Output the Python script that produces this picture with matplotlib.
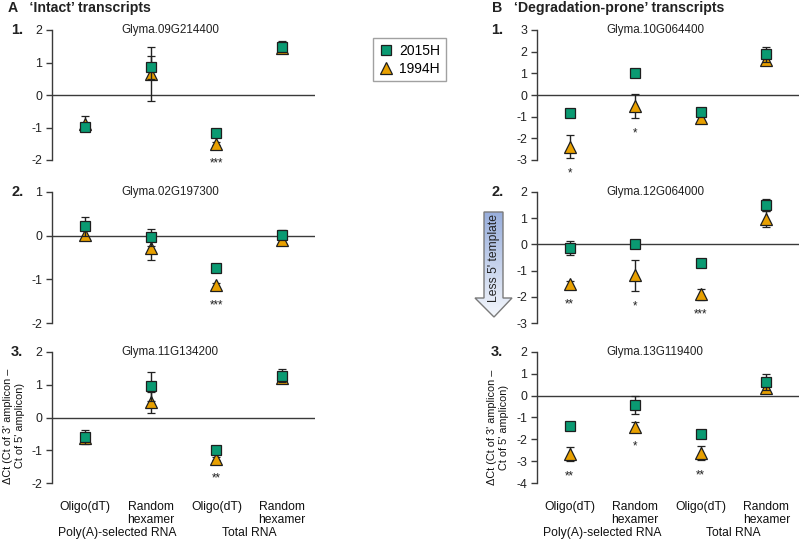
import numpy as np
import matplotlib
matplotlib.use("Agg")
import matplotlib.pyplot as plt
from matplotlib.lines import Line2D
from matplotlib.patches import Polygon
from matplotlib.colors import LinearSegmentedColormap
from matplotlib import transforms

plt.rcParams['font.family'] = ['Liberation Sans', 'DejaVu Sans']
plt.rcParams['axes.unicode_minus'] = False

# ---------------- data ----------------
categories = ["Oligo(dT)", "Random\nhexamer", "Oligo(dT)", "Random\nhexamer"]
groups = ["Poly(A)-selected RNA", "Total RNA"]
series_names = ["2015H", "1994H"]

genes_A = ["Glyma.09G214400", "Glyma.02G197300", "Glyma.11G134200"]
genes_B = ["Glyma.10G064400", "Glyma.12G064000", "Glyma.13G119400"]

ylims_A = [(-2, 2), (-2, 1), (-2, 2)]
ylims_B = [(-3, 3), (-3, 2), (-4, 2)]

# 2015H (squares)
sq_A1 = [-0.97, 0.85, -1.18, 1.49]; sq_err_A1 = [0.08, 0.35, 0.06, 0.17]
sq_A2 = [0.21, -0.04, -0.73, 0.02]; sq_err_A2 = [0.21, 0.19, 0.05, 0.10]
sq_A3 = [-0.60, 0.95, -0.98, 1.28]; sq_err_A3 = [0.22, 0.45, 0.08, 0.20]
sq_B1 = [-0.85, 1.00, -0.77, 1.88]; sq_err_B1 = [0.10, 0.10, 0.15, 0.35]
sq_B2 = [-0.14, 0.02, -0.70, 1.49]; sq_err_B2 = [0.27, 0.12, 0.05, 0.23]
sq_B3 = [-1.40, -0.43, -1.76, 0.64]; sq_err_B3 = [0.08, 0.40, 0.08, 0.37]

# 1994H (triangles)
tri_A1 = [-0.88, 0.65, -1.50, 1.45]; tri_err_A1 = [0.24, 0.82, 0.05, 0.10]
tri_A2 = [0.02, -0.28, -1.13, -0.10]; tri_err_A2 = [0.12, 0.27, 0.05, 0.08]
tri_A3 = [-0.62, 0.47, -1.26, 1.22]; tri_err_A3 = [0.15, 0.32, 0.05, 0.10]
tri_B1 = [-2.38, -0.50, -1.05, 1.60]; tri_err_B1 = [0.53, 0.56, 0.10, 0.15]
tri_B2 = [-1.53, -1.18, -1.91, 0.98]; tri_err_B2 = [0.12, 0.60, 0.20, 0.30]
tri_B3 = [-2.67, -1.42, -2.63, 0.34]; tri_err_B3 = [0.33, 0.22, 0.32, 0.10]

sig_A1 = ["", "", "***", ""]
sig_A2 = ["", "", "***", ""]
sig_A3 = ["", "", "**", ""]
sig_B1 = ["*", "*", "", ""]
sig_B2 = ["**", "*", "***", ""]
sig_B3 = ["**", "*", "**", ""]

# ---------------- style ----------------
GREEN = "#0A9A72"
ORANGE = "#E8A000"
EDGE = "#1e1e1e"
AXC = "#3a3a3a"
FS = 8.4

W, H = 800, 541
fig = plt.figure(figsize=(W / 100, H / 100), dpi=100)

col_left = [52, 537]
col_width = [263, 262]
row_top = [30, 192, 352]
row_h = [130, 131, 131]

panels = [
    (0, 0, genes_A[0], ylims_A[0], sq_A1, sq_err_A1, tri_A1, tri_err_A1, sig_A1),
    (0, 1, genes_A[1], ylims_A[1], sq_A2, sq_err_A2, tri_A2, tri_err_A2, sig_A2),
    (0, 2, genes_A[2], ylims_A[2], sq_A3, sq_err_A3, tri_A3, tri_err_A3, sig_A3),
    (1, 0, genes_B[0], ylims_B[0], sq_B1, sq_err_B1, tri_B1, tri_err_B1, sig_B1),
    (1, 1, genes_B[1], ylims_B[1], sq_B2, sq_err_B2, tri_B2, tri_err_B2, sig_B2),
    (1, 2, genes_B[2], ylims_B[2], sq_B3, sq_err_B3, tri_B3, tri_err_B3, sig_B3),
]

x = np.arange(1, len(categories) + 1)

for col, row, gene, ylim, sq, sqe, tri, trie, sig in panels:
    l = col_left[col] / W
    w = col_width[col] / W
    b = 1 - (row_top[row] + row_h[row]) / H
    h = row_h[row] / H
    ax = fig.add_axes([l, b, w, h])
    ax.set_xlim(0.5, 4.5)
    ax.set_ylim(*ylim)
    ax.set_yticks(np.arange(ylim[0], ylim[1] + 1, 1))
    for s in ["top", "right", "bottom"]:
        ax.spines[s].set_visible(False)
    ax.spines["left"].set_color(AXC)
    ax.spines["left"].set_linewidth(1.0)
    ax.tick_params(axis="y", direction="out", length=4, width=1.0, color=AXC,
                   labelsize=FS + 0.5, pad=3, labelcolor="#222222")
    ax.axhline(0, color=AXC, lw=1.0, zorder=1)
    ax.patch.set_alpha(0)

    ax.errorbar(x, tri, yerr=trie, fmt="^", ms=8.2, mfc=ORANGE, mec=EDGE, mew=0.9,
                ecolor="#222222", elinewidth=1.0, capsize=3, capthick=1.0, zorder=3)
    ax.errorbar(x, sq, yerr=sqe, fmt="s", ms=7.8, mfc=GREEN, mec=EDGE, mew=0.9,
                ecolor="#222222", elinewidth=1.0, capsize=3, capthick=1.0, zorder=4)

    ax.text(0.45, 1.0, gene, transform=ax.transAxes, ha="center", va="center",
            fontsize=FS, color="#222222")

    ppu = h * H / (ylim[1] - ylim[0])
    for xi, t, te, s in zip(x, tri, trie, sig):
        if s:
            off = max(te * ppu, 5) + 9
            ax.annotate(s, xy=(xi, t), xytext=(0, -off), textcoords="offset pixels",
                        ha="center", va="top", fontsize=FS, color="#222222",
                        annotation_clip=False)

    if row == 2:
        ax.set_xticks(x)
        ax.set_xticklabels(categories, fontsize=FS + 0.3, linespacing=1.15)
        ax.tick_params(axis="x", length=0, pad=13, labelcolor="#111111")
        trans = transforms.blended_transform_factory(ax.transData, ax.transAxes)
        for gi, g in enumerate(groups):
            ax.text(1.5 + 2 * gi, -0.385, g, transform=trans, ha="center", va="center",
                    fontsize=FS + 0.3, color="#111111")
    else:
        ax.set_xticks([])

# y labels
ylab = "\u0394Ct (Ct of 3' amplicon \u2013\nCt of 5' amplicon)"
fig.text(14 / W, 1 - 426 / H, ylab, rotation=90, ha="center", va="center",
         fontsize=FS - 0.6, multialignment="center", color="#111111")
fig.text(498 / W, 1 - 427 / H, ylab, rotation=90, ha="center", va="center",
         fontsize=FS - 0.6, multialignment="center", color="#111111")

# headings
fig.text(8 / W, 1 - 8 / H, "A   \u2018Intact\u2019 transcripts", fontsize=10.2,
         weight="bold", ha="left", va="center", color="#222222")
fig.text(492 / W, 1 - 8 / H, "B   \u2018Degradation-prone\u2019 transcripts", fontsize=10.2,
         weight="bold", ha="left", va="center", color="#222222")
for i, yy in enumerate(row_top):
    fig.text(11 / W, 1 - yy / H, f"{i + 1}.", fontsize=10.5, weight="bold",
             ha="left", va="center", color="#222222")
    fig.text(491 / W, 1 - yy / H, f"{i + 1}.", fontsize=10.5, weight="bold",
             ha="left", va="center", color="#222222")

# legend
handles = [
    Line2D([], [], ls="none", marker="s", ms=7.8, mfc=GREEN, mec=EDGE, mew=0.9),
    Line2D([], [], ls="none", marker="^", ms=8.2, mfc=ORANGE, mec=EDGE, mew=0.9),
]
leg = fig.legend(handles, series_names, loc="upper left",
                 bbox_to_anchor=(373 / W, 1 - 38 / H), frameon=True, fancybox=False,
                 fontsize=10, handlelength=1.0, handletextpad=0.5,
                 borderpad=0.4, labelspacing=0.3, borderaxespad=0)
leg.get_frame().set_edgecolor("#8a8a8a")
leg.get_frame().set_linewidth(1.0)

# arrow "Less 5' template"
ov = fig.add_axes([0, 0, 1, 1], zorder=-1)
ov.set_xlim(0, W)
ov.set_ylim(H, 0)
ov.axis("off")
verts = [(484, 212), (503, 212), (503, 298), (512, 298), (494, 317),
         (475, 298), (484, 298)]
poly = Polygon(verts, closed=True, facecolor="none", edgecolor="#7a7a7a", lw=1.0, zorder=3)
ov.add_patch(poly)
grad = np.linspace(0, 1, 256).reshape(-1, 1)
cmap = LinearSegmentedColormap.from_list("g", ["#98AEDC", "#F4F7FC"])
im = ov.imshow(grad, cmap=cmap, extent=(474, 513, 317, 212), aspect="auto", zorder=2)
im.set_clip_path(poly)
ov.text(494, 258, "Less 5' template", rotation=90, ha="center", va="center",
        fontsize=FS + 0.3, color="#222222", zorder=4)

fig.savefig("out.png", dpi=100)
